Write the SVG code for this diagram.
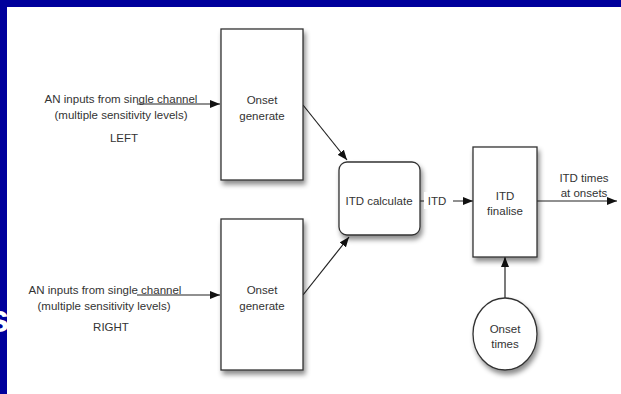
<svg xmlns="http://www.w3.org/2000/svg" width="621" height="394" viewBox="0 0 621 394">
<defs>
<style>
.t{font-family:"Liberation Sans",Arial,sans-serif;font-size:11.5px;fill:#333;text-anchor:middle}
.box{fill:#fff;stroke:#333;stroke-width:1.3;filter:url(#sh)}
.ln{stroke:#222;stroke-width:1.2;fill:none;marker-end:url(#ah)}
</style>
<filter id="sh" x="-20%" y="-20%" width="150%" height="150%">
<feDropShadow dx="2" dy="4" stdDeviation="2.5" flood-color="#000" flood-opacity="0.45"/>
</filter>
<marker id="ah" viewBox="0 0 10 8" refX="10" refY="4" markerWidth="10" markerHeight="8" markerUnits="userSpaceOnUse" orient="auto">
<path d="M0,0 L10,4 L0,8 Z" fill="#111"/>
</marker>
</defs>
<rect x="0" y="0" width="621" height="394" fill="#fff"/>
<rect x="0" y="0" width="621" height="7" fill="#00009c"/>
<rect x="0" y="0" width="7" height="394" fill="#00009c"/>
<text x="-12" y="332" font-family="Liberation Sans,Arial,sans-serif" font-weight="bold" font-size="38" fill="#fff">s</text>

<g id="connectors">
<line class="ln" x1="137" y1="104" x2="220" y2="104"/>
<line class="ln" x1="137" y1="295" x2="220" y2="295"/>
<line class="ln" x1="303" y1="105" x2="347" y2="160"/>
<line class="ln" x1="303" y1="295" x2="349" y2="237"/>
<line class="ln" x1="420" y1="201" x2="473" y2="201"/>
<line class="ln" x1="537" y1="201" x2="617" y2="201"/>
<line class="ln" x1="505" y1="298" x2="505" y2="257"/>
</g>

<g id="label-left">
<text class="t" x="121" y="103">AN inputs from single channel</text>
<text class="t" x="121" y="119">(multiple sensitivity levels)</text>
<text class="t" x="124" y="142">LEFT</text>
</g>
<g id="label-right">
<text class="t" x="105" y="294">AN inputs from single channel</text>
<text class="t" x="104" y="310">(multiple sensitivity levels)</text>
<text class="t" x="111" y="331">RIGHT</text>
</g>

<g id="onset-left">
<rect class="box" x="221" y="29" width="82" height="151"/>
<text class="t" x="262" y="104">Onset</text>
<text class="t" x="262" y="120">generate</text>
</g>
<g id="onset-right">
<rect class="box" x="221" y="219" width="82" height="151"/>
<text class="t" x="262" y="294">Onset</text>
<text class="t" x="262" y="310">generate</text>
</g>
<g id="itd-calc">
<rect class="box" x="339" y="162" width="81" height="73" rx="8"/>
<text class="t" x="379" y="205">ITD calculate</text>
</g>
<g id="itd-label">
<rect x="424" y="192" width="29" height="17" fill="#fff"/>
<text class="t" x="437" y="205">ITD</text>
</g>
<g id="itd-finalise">
<rect class="box" x="473" y="147" width="64" height="110"/>
<text class="t" x="505" y="200">ITD</text>
<text class="t" x="505" y="215">finalise</text>
</g>
<g id="out-label">
<text class="t" x="584" y="182">ITD times</text>
<text class="t" x="584" y="197">at onsets</text>
</g>
<g id="onset-times">
<ellipse class="box" cx="505" cy="334" rx="32" ry="36"/>
<text class="t" x="505" y="333">Onset</text>
<text class="t" x="505" y="348">times</text>
</g>
</svg>
